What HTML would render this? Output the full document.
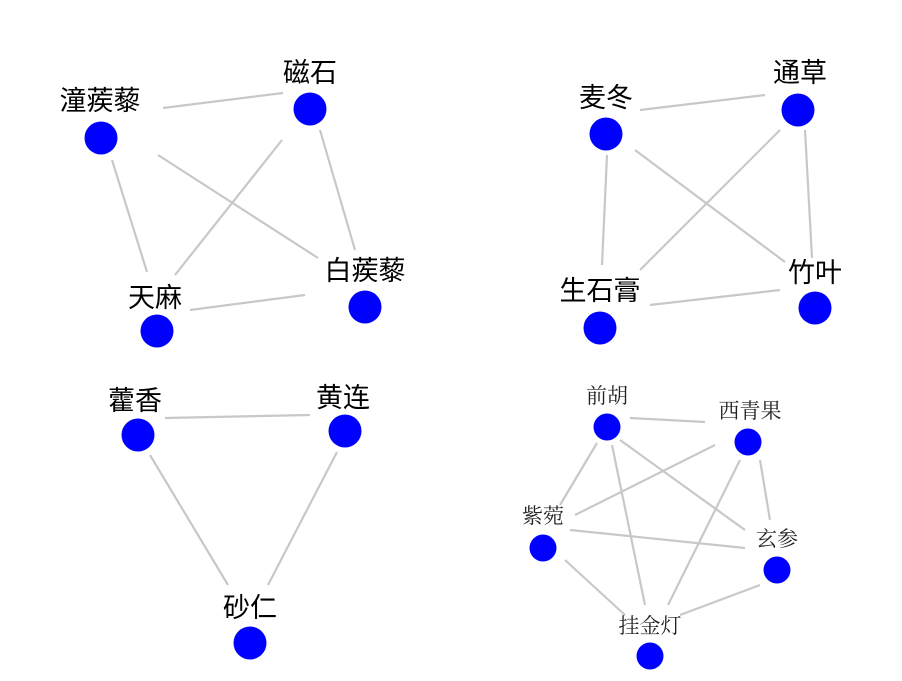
<!DOCTYPE html>
<html><head><meta charset="utf-8"><style>
html,body{margin:0;padding:0;background:#fff;}
svg{display:block;}
.s{font-family:"Liberation Sans","Noto Sans CJK SC",sans-serif;font-size:27px;fill:#000;text-anchor:middle;}
.r{font-family:"Liberation Serif","Noto Serif CJK SC",serif;font-size:21px;fill:#222;text-anchor:middle;}
line{stroke:#c8c8c8;stroke-width:2.2;}
circle{fill:#0000ff;}
</style></head><body>
<svg width="902" height="681" viewBox="0 0 902 681" xmlns="http://www.w3.org/2000/svg">
<!-- top-left -->
<line x1="163" y1="108" x2="283" y2="93"/>
<line x1="112" y1="160" x2="147" y2="272"/>
<line x1="158" y1="155" x2="318" y2="258"/>
<line x1="282" y1="140" x2="175" y2="275"/>
<line x1="320" y1="130" x2="355" y2="250"/>
<line x1="190" y1="310" x2="305" y2="295"/>
<circle cx="101" cy="138" r="16.5"/><circle cx="310" cy="109" r="16.5"/>
<circle cx="157" cy="331" r="16.5"/><circle cx="365" cy="307" r="16.5"/>
<text class="s" x="100" y="110">潼蒺藜</text>
<text class="s" x="310" y="82">磁石</text>
<text class="s" x="155" y="307">天麻</text>
<text class="s" x="365" y="280">白蒺藜</text>
<!-- top-right -->
<line x1="640" y1="110" x2="765" y2="95"/>
<line x1="607" y1="155" x2="602" y2="265"/>
<line x1="635" y1="150" x2="785" y2="262"/>
<line x1="780" y1="130" x2="640" y2="270"/>
<line x1="805" y1="130" x2="812" y2="258"/>
<line x1="650" y1="305" x2="780" y2="290"/>
<circle cx="606" cy="134" r="16.5"/><circle cx="798" cy="110" r="16.5"/>
<circle cx="600" cy="328" r="16.5"/><circle cx="815" cy="308" r="16.5"/>
<text class="s" x="606" y="107">麦冬</text>
<text class="s" x="800" y="82">通草</text>
<text class="s" x="600" y="300">生石膏</text>
<text class="s" x="815" y="282">竹叶</text>
<!-- bottom-left -->
<line x1="165" y1="418" x2="310" y2="415"/>
<line x1="150" y1="455" x2="228" y2="585"/>
<line x1="337" y1="452" x2="268" y2="585"/>
<circle cx="138" cy="435" r="16.5"/><circle cx="345" cy="431" r="16.5"/>
<circle cx="250" cy="643" r="16.5"/>
<text class="s" x="135" y="410">藿香</text>
<text class="s" x="343" y="407">黄连</text>
<text class="s" x="250" y="617">砂仁</text>
<!-- bottom-right -->
<line x1="630" y1="418" x2="705" y2="422"/>
<line x1="597" y1="443" x2="560" y2="505"/>
<line x1="620" y1="440" x2="745" y2="530"/>
<line x1="612" y1="445" x2="645" y2="605"/>
<line x1="715" y1="445" x2="575" y2="515"/>
<line x1="760" y1="460" x2="770" y2="520"/>
<line x1="740" y1="460" x2="668" y2="605"/>
<line x1="570" y1="530" x2="745" y2="548"/>
<line x1="565" y1="560" x2="625" y2="615"/>
<line x1="760" y1="585" x2="680" y2="615"/>
<circle cx="607" cy="427" r="13.5"/><circle cx="748" cy="442" r="13.5"/>
<circle cx="543" cy="548" r="13.5"/><circle cx="777" cy="570" r="13.5"/>
<circle cx="650" cy="656" r="13.5"/>
<text class="r" x="607" y="403">前胡</text>
<text class="r" x="750" y="418">西青果</text>
<text class="r" x="543" y="523">紫菀</text>
<text class="r" x="777" y="546">玄参</text>
<text class="r" x="650" y="633">挂金灯</text>
</svg>
</body></html>
